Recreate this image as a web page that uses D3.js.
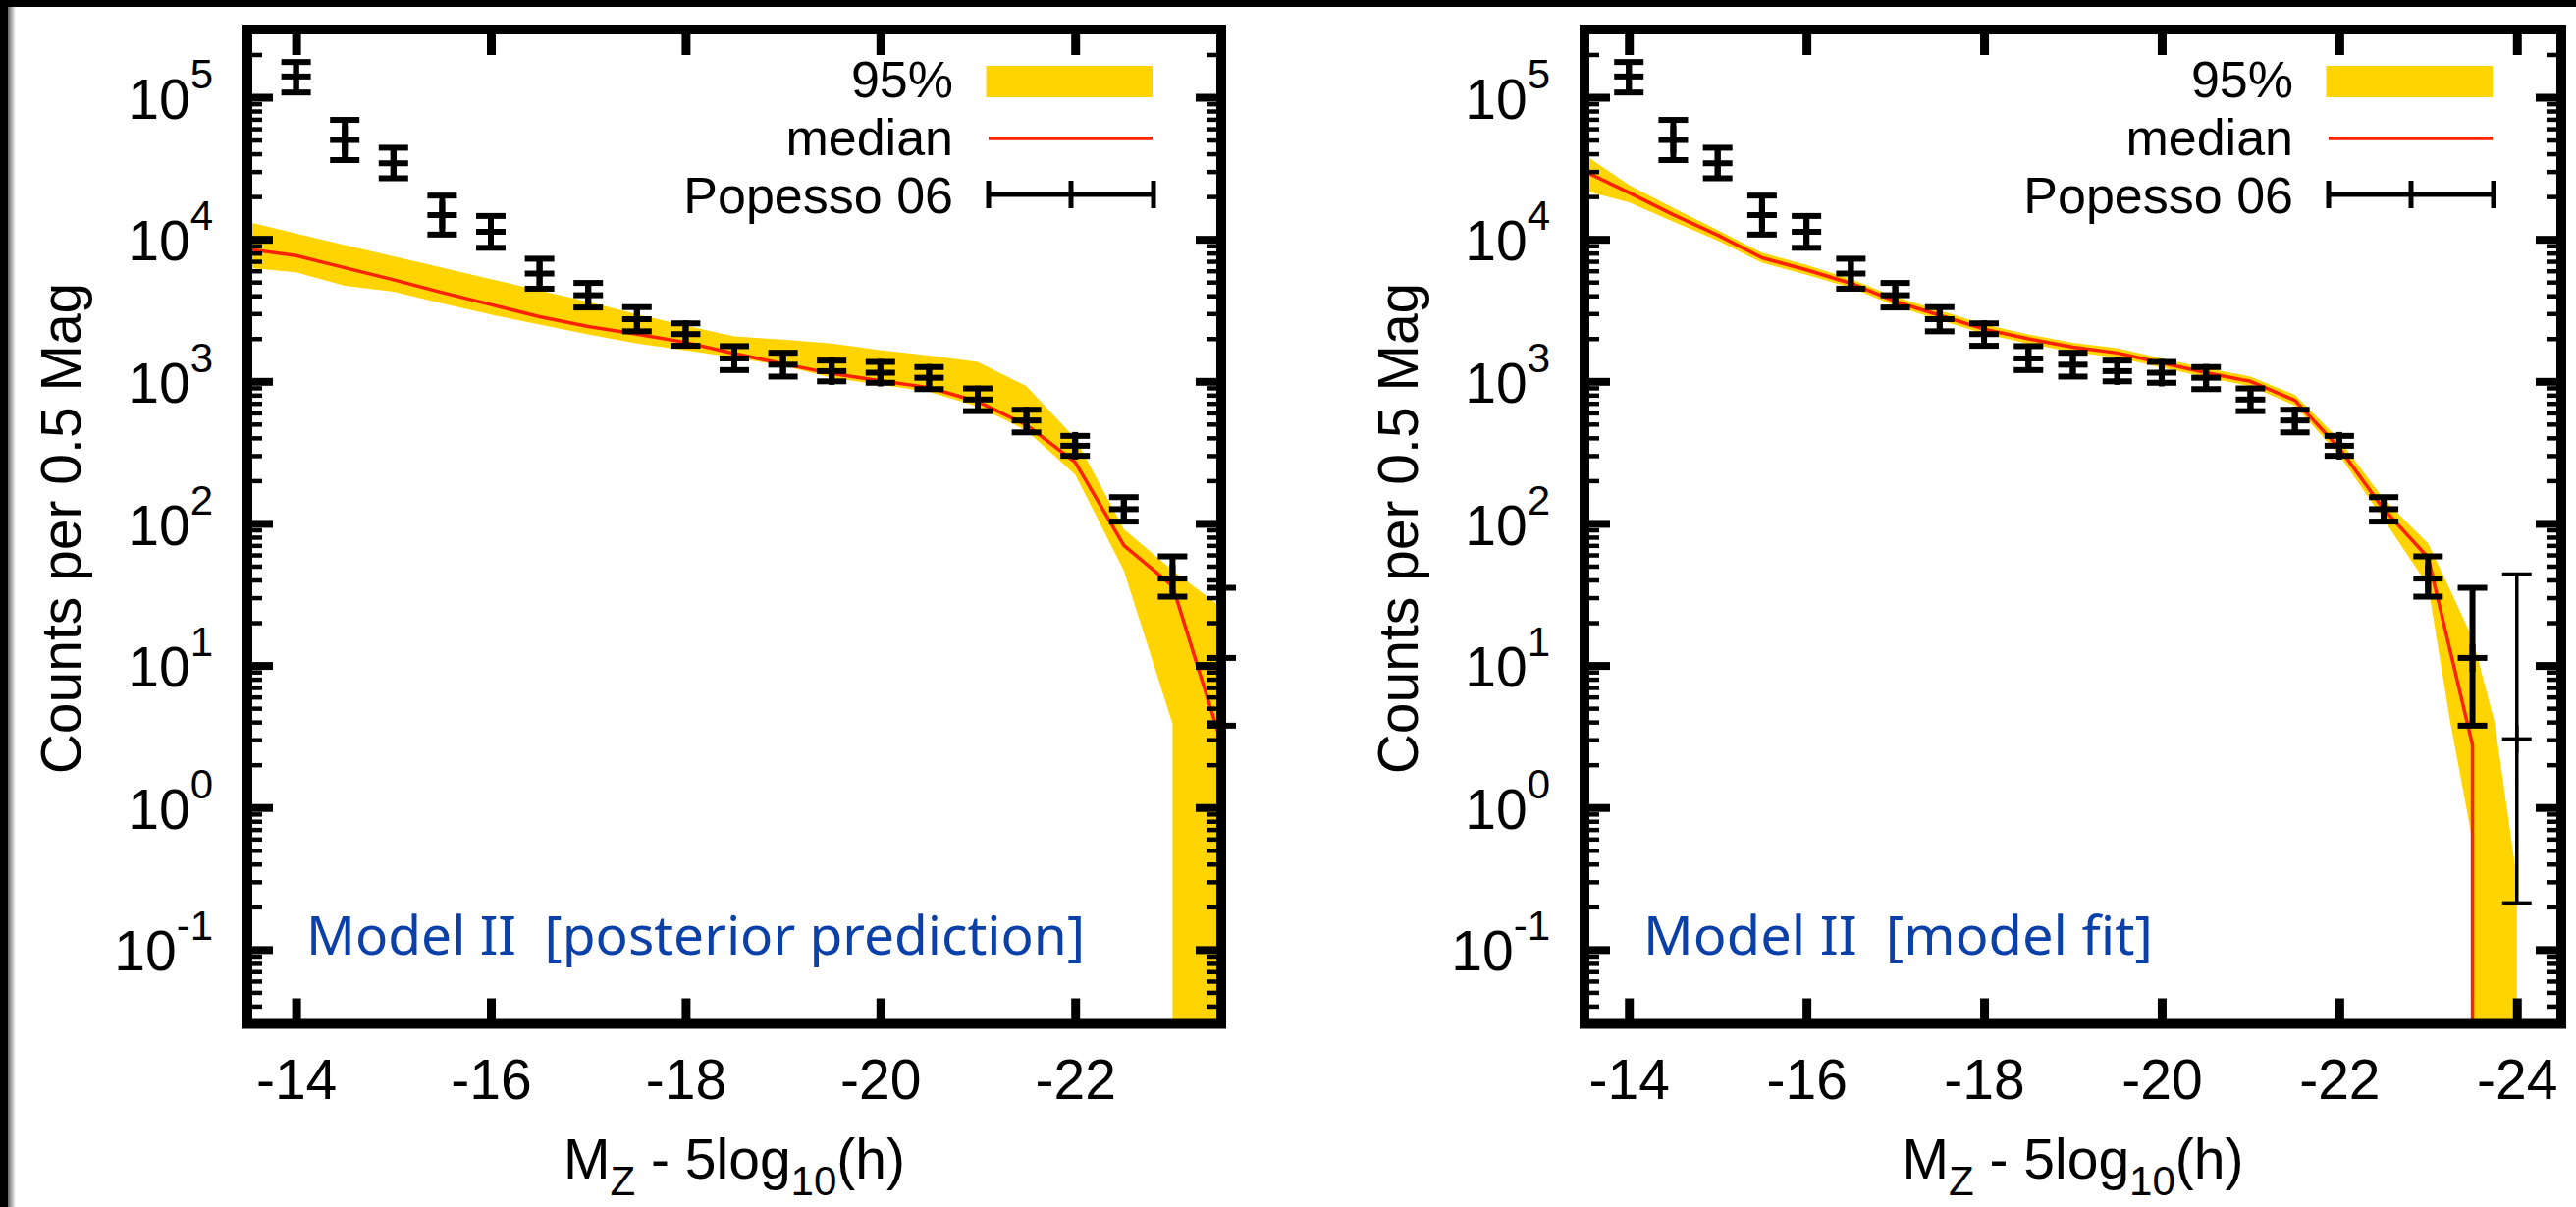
<!DOCTYPE html>
<html><head><meta charset="utf-8">
<script src="https://cdn.jsdelivr.net/npm/d3@7"></script>
<style>
html,body{margin:0;padding:0;background:#fff;overflow:hidden;}
svg{display:block;}
text{font-family:"Liberation Sans",Arial,Helvetica,sans-serif;}
</style></head><body>
<svg id="chart" width="2624" height="1229"></svg>
<script>
// ---------------- DATA ----------------
// Popesso 06 measurements (counts per 0.5 mag) with error bar ends
const popessoMag    = [-14,-14.5,-15,-15.5,-16,-16.5,-17,-17.5,-18,-18.5,-19,-19.5,-20,-20.5,-21,-21.5,-22,-22.5,-23,-23.5];
const popessoCounts = [140000,50000,34300,14800,11300,5740,4040,2740,2150,1450,1310,1180,1150,1060,745,530,352,126,40.9,11.3];
const popessoLow    = [108000,36100,26900,10800,8710,4490,3310,2250,1780,1200,1080,1000,977,881,617,437,299,103,30.5,3.77];
const popessoHigh   = [177000,69300,44100,20300,14600,7300,4930,3330,2560,1770,1590,1400,1370,1260,891,631,413,153,58.6,35.2];
// extra thin error bar (right panel only)
const extraMag    = [-24];
const extraCounts = [3.04];
const extraLow    = [0.213];
const extraHigh   = [44.0];

// Left panel: posterior prediction (95% band and median); 0 = falls to zero
const predMag    = [-13.5,-14,-14.5,-15,-15.5,-16,-16.5,-17,-17.5,-18,-18.5,-19,-19.5,-20,-20.5,-21,-21.5,-22,-22.5,-23,-23.5];
const predUpper  = [13300,11000,9120,7590,6310,5250,4370,3630,2970,2470,2070,1970,1850,1660,1520,1370,923,398,91.2,46.8,25.7];
const predMedian = [8550,7670,6310,5190,4220,3470,2850,2430,2150,1880,1570,1330,1135,1010,904,719,493,270,70.0,36.3,2.88];
const predLower  = [6310,5850,4700,4270,3530,2950,2510,2140,1850,1650,1470,1290,1060,946,845,665,450,221,46.6,3.89,0];

// Right panel: model fit
const fitMag    = [-13.5,-14,-14.5,-15,-15.5,-16,-16.5,-17,-17.5,-18,-18.5,-19,-19.5,-20,-20.5,-21,-21.5,-22,-22.5,-23,-23.25,-23.5,-23.75,-24];
const fitUpper  = [39400,24200,16600,11600,8040,6610,5270,3940,3160,2520,2140,1870,1710,1450,1240,1080,804,389,148,72.4,33.9,15.5,3.98,0.316];
const fitMedian = [30200,21300,14900,10700,7410,6100,4900,3650,2920,2330,1990,1740,1585,1350,1150,1000,735,339,126,57.5,12.6,2.75,0,0];
const fitLower  = [22000,18200,13300,9770,6840,5620,4550,3390,2710,2160,1840,1610,1470,1250,1070,923,676,302,107,36.3,3.98,0.589,0,0];

// Axis / tick data
const yTickExponents = [-1,0,1,2,3,4,5];
const yDomain = [0.03, 3e5];
const xTicksPred = [-14,-16,-18,-20,-22];
const xTicksFit  = [-14,-16,-18,-20,-22,-24];
const predXDomain = [-13.5,-23.5];
const fitXDomain  = [-13.5,-24.5];
const legendLabels = ["95%","median","Popesso 06"];
const panelTitles  = ["Model II  [posterior prediction]","Model II  [model fit]"];
const yAxisLabel = "Counts per 0.5 Mag";

// ---------------- STYLE / LAYOUT ----------------
const W = 2624, H = 1229;
const TOP = 30, BOTTOM = 1042.5;
const GOLD = "#ffd400", RED = "#ff2200", BLUE = "#0b40a8";
const FS = 57, FS_SMALL = 42, FS_LEGEND = 52;

const svg = d3.select("#chart");
svg.append("rect").attr("width",W).attr("height",H).attr("fill","#fff");
const defs = svg.append("defs");
const grad = defs.append("linearGradient").attr("id","shadeL").attr("x1","0").attr("x2","1");
grad.append("stop").attr("offset","0").attr("stop-color","#000").attr("stop-opacity",0.6);
grad.append("stop").attr("offset","1").attr("stop-color","#000").attr("stop-opacity",0);
svg.append("rect").attr("x",0).attr("y",0).attr("width",W).attr("height",7).attr("fill","#000");
svg.append("rect").attr("x",0).attr("y",0).attr("width",8).attr("height",H).attr("fill","#000");
svg.append("rect").attr("x",8).attr("y",0).attr("width",8).attr("height",H).attr("fill","url(#shadeL)");

const panels = [
  {id:"pred", left:252, right:1244, xDomain:predXDomain, xTicks:xTicksPred,
   mags:predMag, upper:predUpper, median:predMedian, lower:predLower,
   title:panelTitles[0], titleLen:793, extra:false},
  {id:"fit", left:1614, right:2609, xDomain:fitXDomain, xTicks:xTicksFit,
   mags:fitMag, upper:fitUpper, median:fitMedian, lower:fitLower,
   title:panelTitles[1], titleLen:519, extra:true}
];

function minorTicks(dom){
  const out=[];
  for(let e=-3;e<=6;e++) for(let k=2;k<=9;k++){const v=k*Math.pow(10,e); if(v>dom[0]*1.0001 && v<dom[1]*0.9999) out.push(v);}
  return out;
}

panels.forEach(p=>{
  const x = d3.scaleLinear().domain(p.xDomain).range([p.left,p.right]);
  const y = d3.scaleLog().domain(yDomain).range([BOTTOM,TOP]);
  const bottomPx = y.range()[0];
  const g = svg.append("g");
  const clipId = "clip-"+p.id;
  defs.append("clipPath").attr("id",clipId).append("rect")
    .attr("x",p.left).attr("y",TOP).attr("width",p.right-p.left).attr("height",BOTTOM-TOP);

  function edge(vals){
    const pts=[];
    for(let i=0;i<p.mags.length;i++){
      if(vals[i]>0) pts.push([x(p.mags[i]), y(vals[i])]);
      else { if(i>0 && vals[i-1]>0) pts.push([x(p.mags[i-1]), bottomPx]); pts.push([x(p.mags[i]), bottomPx]); }
    }
    return pts;
  }
  const up = edge(p.upper), lo = edge(p.lower).reverse();
  g.append("path").attr("d", d3.line()(up.concat(lo))+"Z")
    .attr("fill",GOLD).attr("clip-path",`url(#${clipId})`);

  const med=[];
  for(let i=0;i<p.mags.length;i++){
    if(p.median[i]>0) med.push([x(p.mags[i]), y(p.median[i])]);
    else { med.push([x(p.mags[i-1]), bottomPx]); break; }
  }
  g.append("path").attr("d", d3.line()(med)).attr("fill","none").attr("stroke",RED)
    .attr("stroke-width",3.5).attr("stroke-linejoin","round").attr("clip-path",`url(#${clipId})`);

  // frame
  g.append("rect").attr("x",p.left).attr("y",TOP).attr("width",p.right-p.left).attr("height",BOTTOM-TOP)
    .attr("fill","none").attr("stroke","#000").attr("stroke-width",10);

  // axes
  const majorY = yTickExponents.map(e=>Math.pow(10,e));
  const minorY = minorTicks(yDomain);
  function styleAxis(sel, sw, keepText){
    sel.select(".domain").remove();
    sel.selectAll(".tick line").attr("stroke","#000").attr("stroke-width",sw);
    sel.attr("font-family",null).attr("font-size",FS);
    if(!keepText) sel.selectAll(".tick text").remove();
  }
  const yl = g.append("g").attr("transform",`translate(${p.left},0)`)
    .call(d3.axisLeft(y).tickValues(majorY).tickSizeInner(-26).tickSizeOuter(0).tickPadding(35).tickFormat(()=>""));
  styleAxis(yl, 8, true);
  yl.selectAll(".tick text").attr("fill","#000").attr("dy","0.37em").each(function(d){
    const t = d3.select(this);
    const e = Math.round(Math.log10(d));
    t.append("tspan").text("10");
    t.append("tspan").attr("font-size",FS_SMALL).attr("dy",-31).text(String(e));
  });
  const ylm = g.append("g").attr("transform",`translate(${p.left},0)`)
    .call(d3.axisLeft(y).tickValues(minorY).tickSizeInner(-15).tickSizeOuter(0).tickFormat(()=>""));
  styleAxis(ylm, 4.5, false);
  const yr = g.append("g").attr("transform",`translate(${p.right},0)`)
    .call(d3.axisRight(y).tickValues(majorY).tickSizeInner(-26).tickSizeOuter(0).tickFormat(()=>""));
  styleAxis(yr, 8, false);
  const yrm = g.append("g").attr("transform",`translate(${p.right},0)`)
    .call(d3.axisRight(y).tickValues(minorY).tickSizeInner(-15).tickSizeOuter(0).tickFormat(()=>""));
  styleAxis(yrm, 4.5, false);
  const xb = g.append("g").attr("transform",`translate(0,${BOTTOM})`)
    .call(d3.axisBottom(x).tickValues(p.xTicks).tickSizeInner(-26).tickSizeOuter(0).tickPadding(36).tickFormat(d=>String(d)));
  styleAxis(xb, 9, true);
  xb.selectAll(".tick text").attr("fill","#000");
  const xt = g.append("g").attr("transform",`translate(0,${TOP})`)
    .call(d3.axisTop(x).tickValues(p.xTicks).tickSizeInner(-26).tickSizeOuter(0).tickFormat(()=>""));
  styleAxis(xt, 9, false);

  // error bars
  const xmin = d3.min(p.xDomain)-1e-6, xmax = d3.max(p.xDomain)+1e-6;
  function errBars(mags, vals, lows, highs, sw){
    const data = mags.map((m,i)=>({m, v:vals[i], lo:lows[i], hi:highs[i]})).filter(d=>d.m>=xmin && d.m<=xmax);
    const eg = g.append("g").attr("stroke","#000").attr("stroke-width",sw);
    const s = eg.selectAll("g").data(data).enter().append("g");
    s.append("line").attr("x1",d=>x(d.m)).attr("x2",d=>x(d.m)).attr("y1",d=>y(d.lo)).attr("y2",d=>y(d.hi));
    s.append("line").attr("x1",d=>x(d.m)-15).attr("x2",d=>x(d.m)+15).attr("y1",d=>y(d.lo)).attr("y2",d=>y(d.lo));
    s.append("line").attr("x1",d=>x(d.m)-15).attr("x2",d=>x(d.m)+15).attr("y1",d=>y(d.hi)).attr("y2",d=>y(d.hi));
    s.append("line").attr("x1",d=>x(d.m)-15).attr("x2",d=>x(d.m)+15).attr("y1",d=>y(d.v)).attr("y2",d=>y(d.v));
    s.append("line").attr("x1",d=>x(d.m)).attr("x2",d=>x(d.m)).attr("y1",d=>y(d.v)-14).attr("y2",d=>y(d.v)+14);
  }
  errBars(popessoMag, popessoCounts, popessoLow, popessoHigh, 6);
  if(p.extra) errBars(extraMag, extraCounts, extraLow, extraHigh, 3.5);

  // legend
  const lg = g.append("g").attr("font-size",FS_LEGEND).attr("fill","#000");
  const tx = p.right-273;
  [TOP+69, TOP+128, TOP+187].forEach((by,i)=>{
    lg.append("text").attr("x",tx).attr("y",by).attr("text-anchor","end").text(legendLabels[i]);
  });
  lg.append("rect").attr("x",p.right-239.5).attr("y",TOP+37).attr("width",169.5).attr("height",32).attr("fill",GOLD);
  lg.append("line").attr("x1",p.right-237).attr("x2",p.right-70).attr("y1",TOP+111).attr("y2",TOP+111)
    .attr("stroke",RED).attr("stroke-width",3.5);
  const ey = TOP+168, ex1 = p.right-237, ex2 = p.right-69, exm=(ex1+ex2)/2;
  const eb = lg.append("g").attr("stroke","#000").attr("stroke-width",5);
  eb.append("line").attr("x1",ex1).attr("x2",ex2).attr("y1",ey).attr("y2",ey);
  [ex1,exm,ex2].forEach(xx=>eb.append("line").attr("x1",xx).attr("x2",xx).attr("y1",ey-14).attr("y2",ey+14));

  // panel annotation
  g.append("text").attr("x",p.left+60).attr("y",972).attr("fill",BLUE)
    .attr("font-size",54).style("font-family","'Noto Sans',sans-serif").style("white-space","pre")
    .attr("textLength",p.titleLen).attr("lengthAdjust","spacingAndGlyphs").text(p.title);

  // axis labels
  const xl = g.append("text").attr("x",(p.left+p.right)/2).attr("y",1200).attr("text-anchor","middle")
    .attr("font-size",FS).attr("fill","#000");
  xl.append("tspan").text("M");
  xl.append("tspan").attr("font-size",FS_SMALL).attr("dy",17).text("Z");
  xl.append("tspan").attr("dy",-17).text(" - 5log");
  xl.append("tspan").attr("font-size",FS_SMALL).attr("dy",17).text("10");
  xl.append("tspan").attr("dy",-17).text("(h)");
  g.append("text").attr("transform",`translate(${p.left-170},538) rotate(-90)`).attr("text-anchor","middle")
    .attr("font-size",FS).attr("fill","#000").text(yAxisLabel);
});
</script>
</body></html>
